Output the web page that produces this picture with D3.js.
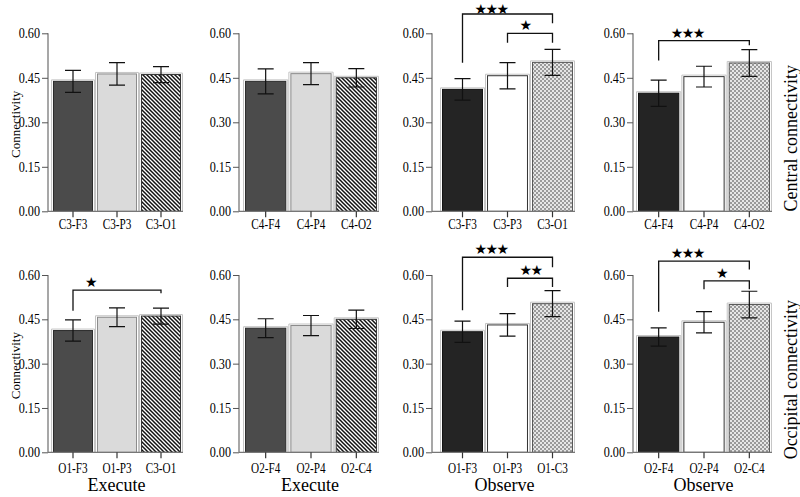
<!DOCTYPE html>
<html>
<head>
<meta charset="utf-8">
<script src="https://cdn.jsdelivr.net/npm/d3@7"></script>
<style>
  body { margin: 0; background: #fff; }
  svg { display: block; }
  text { font-family: "Liberation Serif", "Times New Roman", serif; fill: #000; }
</style>
</head>
<body>
<svg id="chart" width="800" height="497"></svg>
<script>
// ---------------- data ----------------
const panelCategories = [
  ["C3-F3", "C3-P3", "C3-O1"],
  ["C4-F4", "C4-P4", "C4-O2"],
  ["C3-F3", "C3-P3", "C3-O1"],
  ["C4-F4", "C4-P4", "C4-O2"],
  ["O1-F3", "O1-P3", "C3-O1"],
  ["O2-F4", "O2-P4", "O2-C4"],
  ["O1-F3", "O1-P3", "O1-C3"],
  ["O2-F4", "O2-P4", "O2-C4"]
];
const panelMeans = [
  [0.438, 0.463, 0.461],
  [0.438, 0.464, 0.450],
  [0.411, 0.457, 0.502],
  [0.398, 0.454, 0.500],
  [0.412, 0.457, 0.461],
  [0.420, 0.429, 0.450],
  [0.408, 0.431, 0.503],
  [0.390, 0.440, 0.500]
];
const panelErrors = [
  [0.037, 0.038, 0.027],
  [0.042, 0.037, 0.031],
  [0.036, 0.044, 0.044],
  [0.044, 0.035, 0.045],
  [0.036, 0.032, 0.027],
  [0.032, 0.034, 0.031],
  [0.036, 0.038, 0.044],
  [0.031, 0.036, 0.045]
];
const conditions = ["Execute", "Execute", "Observe", "Observe"];
const rowLabels = ["Central connectivity", "Occipital connectivity"];
const yAxisTitle = "Connectivity";
const yTicks = [0, 0.15, 0.30, 0.45, 0.60];
// significance brackets: panel, from bar, to bar, bracket level, left leg end, right leg end, stars
const sigPanel = [2, 2, 3, 4, 6, 6, 7, 7];
const sigFrom  = [0, 1, 0, 0, 0, 1, 0, 1];
const sigTo    = [2, 2, 2, 2, 2, 2, 2, 2];
const sigLevel = [0.665, 0.600, 0.575, 0.549, 0.660, 0.589, 0.647, 0.580];
const sigLeft  = [0.501, 0.568, 0.508, 0.479, 0.481, 0.559, 0.476, 0.552];
const sigRight = [0.634, 0.568, 0.560, 0.538, 0.626, 0.559, 0.619, 0.552];
const sigStars = ["★★★", "★", "★★★", "★", "★★★", "★★", "★★★", "★"];

// ---------------- layout ----------------
const cols = [
  { axis: 48,  b0: 53,  b1: 181 },
  { axis: 239, b0: 245, b1: 377 },
  { axis: 432, b0: 442, b1: 573 },
  { axis: 633, b0: 638, b1: 770 }
];
const rows = [
  { y0: 211.3, y1: 33.3, labDy: 17 },
  { y0: 452.3, y1: 275,  labDy: 20 }
];

const svg = d3.select("#chart");
const defs = svg.append("defs");

// diagonal stripes "\\\\"
const stripe = defs.append("pattern").attr("id", "stripes")
  .attr("patternUnits", "userSpaceOnUse").attr("width", 4).attr("height", 4);
stripe.append("rect").attr("width", 4).attr("height", 4).attr("fill", "#fff");
stripe.append("path").attr("d", "M0,0L4,4M-1,3L1,5M3,-1L5,1")
  .attr("stroke", "#111").attr("stroke-width", 1.5);

// fine checker
const checker = defs.append("pattern").attr("id", "checker")
  .attr("patternUnits", "userSpaceOnUse").attr("width", 4).attr("height", 4);
checker.append("rect").attr("width", 4).attr("height", 4).attr("fill", "#e6e6e6");
checker.append("rect").attr("width", 2).attr("height", 2).attr("fill", "#9a9a9a");
checker.append("rect").attr("x", 2).attr("y", 2).attr("width", 2).attr("height", 2).attr("fill", "#9a9a9a");

const styles = {
  Execute: [
    { fill: "#4b4b4b", stroke: "#2a2a2a" },
    { fill: "#dadada", stroke: "#8a8a8a" },
    { fill: "url(#stripes)", stroke: "#333" }
  ],
  Observe: [
    { fill: "#242424", stroke: "#111" },
    { fill: "#ffffff", stroke: "#333" },
    { fill: "url(#checker)", stroke: "#555" }
  ]
};

function squeeze(sel, k) {
  sel.each(function () {
    const w = this.getComputedTextLength();
    d3.select(this).attr("textLength", w * k).attr("lengthAdjust", "spacingAndGlyphs");
  });
}

const panels = [];
panelCategories.forEach((cats, p) => {
  const r = Math.floor(p / 4), c = p % 4;
  const col = cols[c], row = rows[r];
  const cond = conditions[c];
  const x = d3.scaleBand().domain(cats)
    .range([col.b0 - 2, col.b1 + 2]).paddingInner(0.09).paddingOuter(0.045);
  const y = d3.scaleLinear().domain([0, 0.6]).range([row.y0, row.y1]);
  panels.push({ x, y, cats });
  const g = svg.append("g");

  const data = cats.map((k, i) => ({ k, i, m: panelMeans[p][i], e: panelErrors[p][i] }));

  // bar halos
  g.selectAll(".halo").data(data).enter().append("path")
    .attr("d", d => {
      const x0 = x(d.k) - 1.5, x1 = x(d.k) + x.bandwidth() + 1.5, yt = y(d.m) - 1.5, yb = y(0);
      return `M${x0},${yb}V${yt}H${x1}V${yb}`;
    })
    .attr("fill", "none").attr("stroke", "#c4c4c4").attr("stroke-width", 1);

  // bars
  g.selectAll(".bar").data(data).enter().append("rect")
    .attr("x", d => x(d.k) + 0.5)
    .attr("y", d => y(d.m))
    .attr("width", x.bandwidth() - 1)
    .attr("height", d => y(0) - y(d.m))
    .attr("fill", d => styles[cond][d.i].fill)
    .attr("stroke", d => styles[cond][d.i].stroke)
    .attr("stroke-width", 1);

  // error bars
  const eb = g.selectAll(".err").data(data).enter().append("g")
    .attr("stroke", "#111").attr("stroke-width", 1.2).attr("fill", "none");
  eb.append("path").attr("d", d => {
    const cx = x(d.k) + x.bandwidth() / 2, ya = y(d.m + d.e), yb = y(d.m - d.e);
    return `M${cx},${ya}V${yb}M${cx - 8},${ya}H${cx + 8}M${cx - 8},${yb}H${cx + 8}`;
  });

  // y axis
  const ya = g.append("g").attr("transform", `translate(${col.axis},0)`)
    .call(d3.axisLeft(y).tickValues(yTicks).tickFormat(d3.format(".2f")).tickSize(6).tickPadding(2).tickSizeOuter(0));
  ya.select(".domain").attr("stroke", "#8a8a8a").attr("stroke-width", 1.5)
    .attr("d", `M0,${row.y0}V${row.y1}`);
  ya.selectAll(".tick line").attr("stroke", "#555");
  ya.selectAll(".tick text").style("font-family", "Liberation Serif").style("font-size", "14px").attr("fill", "#000");
  squeeze(ya.selectAll(".tick text"), 0.87);

  // x axis
  const xa = g.append("g").attr("transform", `translate(0,${row.y0})`)
    .call(d3.axisBottom(x).tickSize(6).tickPadding(3).tickSizeOuter(0));
  xa.select(".domain").attr("stroke", "#777").attr("stroke-width", 1.2)
    .attr("d", `M${col.axis},0H${col.b1 + 2}`);
  xa.selectAll(".tick line").attr("stroke", "#333").attr("stroke-width", 1.2);
  xa.selectAll(".tick text").style("font-family", "Liberation Serif").style("font-size", "14px")
    .attr("fill", "#000").attr("y", row.labDy - 9).attr("dy", "0.71em");
  squeeze(xa.selectAll(".tick text"), 0.8);

  // y title on first column
  if (c === 0) {
    g.append("text")
      .attr("transform", `translate(15,${(row.y0 + row.y1) / 2 + 2}) rotate(-90)`)
      .attr("text-anchor", "middle").attr("dominant-baseline", "central")
      .style("font-size", "13px").text(yAxisTitle);
  }
  // condition labels under bottom row
  if (r === 1) {
    g.append("text")
      .attr("x", (col.axis + col.b1) / 2 + 2).attr("y", 491)
      .attr("text-anchor", "middle").style("font-size", "18px").text(cond);
  }
  // row labels at right
  if (c === 3) {
    g.append("text")
      .attr("transform", `translate(797,${(row.y0 + row.y1) / 2 + 16}) rotate(-90)`)
      .attr("text-anchor", "middle").style("font-size", "18px").text(rowLabels[r]);
  }
});

// significance brackets
sigPanel.forEach((p, i) => {
  const { x, y, cats } = panels[p];
  const xl = x(cats[sigFrom[i]]) + x.bandwidth() / 2;
  const xr = x(cats[sigTo[i]]) + x.bandwidth() / 2;
  const yl = y(sigLevel[i]);
  svg.append("path")
    .attr("d", `M${xl},${y(sigLeft[i])}V${yl}H${xr}V${y(sigRight[i])}`)
    .attr("fill", "none").attr("stroke", "#111").attr("stroke-width", 1.3);
  svg.append("text")
    .attr("x", xl + 12).attr("y", Math.max(yl - 8, 8.6))
    .attr("dominant-baseline", "central")
    .attr("letter-spacing", "-1.5px")
    .style("font-family", "'DejaVu Sans'").style("font-size", "14px")
    .text(sigStars[i]);
});
</script>
</body>
</html>
